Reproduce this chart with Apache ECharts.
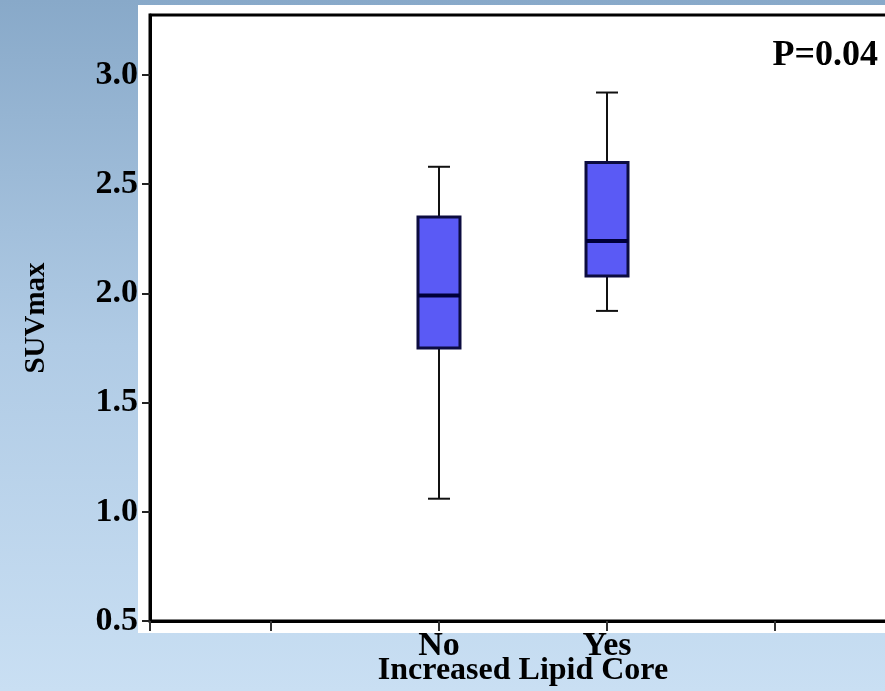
<!DOCTYPE html>
<html>
<head>
<meta charset="utf-8">
<script src="https://cdn.jsdelivr.net/npm/echarts@6/dist/echarts.min.js"></script>
<style>
  html, body { margin: 0; padding: 0; }
  #chart { width: 885px; height: 691px; }
</style>
</head>
<body>
<div id="chart"></div>
<script>
// box plot values
const categories = ['No', 'Yes']
const catPositions = [1, 2]
const whiskerLow = [1.06, 1.92]
const q1 = [1.75, 2.08]
const median = [1.99, 2.24]
const q3 = [2.35, 2.60]
const whiskerHigh = [2.58, 2.92]

const yMin = 0.5
const yMax = 3.275
const yInterval = 0.5

const FONT = "'Liberation Serif', 'Times New Roman', serif"

const chart = echarts.init(document.getElementById('chart'))

const boxData = categories.map((c, i) => [
  catPositions[i], whiskerLow[i], q1[i], median[i], q3[i], whiskerHigh[i]
])

const renderBox = (params, api) => {
  const x = api.value(0)
  const pLow = api.coord([x, api.value(1)])
  const pQ1 = api.coord([x, api.value(2)])
  const pMed = api.coord([x, api.value(3)])
  const pQ3 = api.coord([x, api.value(4)])
  const pHigh = api.coord([x, api.value(5)])
  const cx = pMed[0]
  const halfBox = 21
  const halfCap = 11
  const whisker = { stroke: '#111', lineWidth: 2 }
  return {
    type: 'group',
    children: [
      { type: 'line', shape: { x1: cx, y1: pQ1[1], x2: cx, y2: pLow[1] }, style: whisker },
      { type: 'line', shape: { x1: cx - halfCap, y1: pLow[1], x2: cx + halfCap, y2: pLow[1] }, style: whisker },
      { type: 'line', shape: { x1: cx, y1: pQ3[1], x2: cx, y2: pHigh[1] }, style: whisker },
      { type: 'line', shape: { x1: cx - halfCap, y1: pHigh[1], x2: cx + halfCap, y2: pHigh[1] }, style: whisker },
      {
        type: 'rect',
        shape: { x: cx - halfBox, y: pQ3[1], width: halfBox * 2, height: pQ1[1] - pQ3[1] },
        style: { fill: '#5a5af5', stroke: '#0c0c40', lineWidth: 3 }
      },
      { type: 'line', shape: { x1: cx - halfBox, y1: pMed[1], x2: cx + halfBox, y2: pMed[1] }, style: { stroke: '#000038', lineWidth: 4 } }
    ]
  }
}

const option = {
  animation: false,
  backgroundColor: new echarts.graphic.LinearGradient(0, 0, 0, 1, [
    { offset: 0, color: '#88a9c9' },
    { offset: 0.5, color: '#b0cbe5' },
    { offset: 1, color: '#c9dff3' }
  ]),
  title: {
    text: 'P=0.04',
    right: 7,
    top: 38,
    padding: 0,
    textStyle: { fontFamily: FONT, fontWeight: 'bold', fontSize: 36, color: '#000' }
  },
  graphic: [
    {
      type: 'rect',
      z: -1,
      silent: true,
      shape: { x: 138, y: 5, width: 760, height: 628 },
      style: { fill: '#fff' }
    }
  ],
  grid: {
    left: 150,
    top: 15,
    width: 746,
    height: 606,
    outerBoundsMode: 'none',
    containLabel: false,
    show: true,
    backgroundColor: '#fff',
    borderColor: '#000',
    borderWidth: 3
  },
  xAxis: {
    type: 'value',
    min: -0.72,
    max: 3.72,
    splitNumber: 4,
    name: 'Increased Lipid Core',
    nameLocation: 'middle',
    nameGap: 34,
    nameMoveOverlap: false,
    nameTextStyle: { fontFamily: FONT, fontWeight: 'bold', fontSize: 32, color: '#000' },
    axisLine: { onZero: false, lineStyle: { color: '#000', width: 3 } },
    axisTick: { length: 10, lineStyle: { color: '#333', width: 2 } },
    splitLine: { show: false },
    axisLabel: {
      margin: 8,
      fontFamily: FONT,
      fontWeight: 'bold',
      fontSize: 34,
      color: '#000',
      formatter: v => {
        const idx = catPositions.indexOf(v)
        return idx >= 0 ? categories[idx] : ''
      }
    }
  },
  yAxis: {
    type: 'value',
    min: yMin,
    max: yMax,
    interval: yInterval,
    name: 'SUVmax',
    nameLocation: 'middle',
    nameGap: 99,
    nameMoveOverlap: false,
    nameTextStyle: { fontFamily: FONT, fontWeight: 'bold', fontSize: 29, color: '#000' },
    axisLine: { onZero: false, lineStyle: { color: '#000', width: 3 } },
    axisTick: { length: 8, lineStyle: { color: '#222', width: 2 } },
    splitLine: { show: false },
    axisLabel: {
      margin: 12,
      showMaxLabel: false,
      fontFamily: FONT,
      fontWeight: 'bold',
      fontSize: 34,
      color: '#000',
      formatter: v => (Math.abs(v / yInterval - Math.round(v / yInterval)) < 1e-6 ? v.toFixed(1) : '')
    }
  },
  series: [
    {
      type: 'custom',
      renderItem: renderBox,
      data: boxData,
      encode: { x: 0, y: [1, 2, 3, 4, 5] }
    }
  ]
}

chart.setOption(option)
</script>
</body>
</html>
